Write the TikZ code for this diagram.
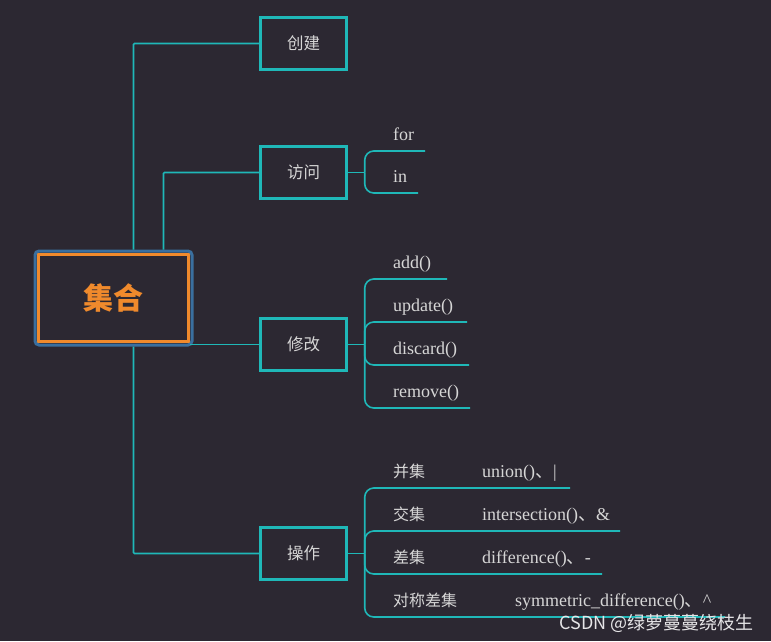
\documentclass[tikz,border=0pt]{standalone}
\usepackage{fontspec}
\setmainfont{Liberation Serif}
\newfontfamily\cjk{Noto Sans CJK SC}
\usetikzlibrary{positioning, fit, calc, backgrounds}
\definecolor{bgcolor}{HTML}{2C2832}
\definecolor{linkcolor}{HTML}{1FB8B8}
\definecolor{rootcolor}{HTML}{F08A2C}
\definecolor{halocolor}{HTML}{3A6F9F}
\definecolor{textcolor}{HTML}{D6D6D6}
\newcommand{\dunhao}{{\cjk 、}}

\tikzset{
  topic/.style={draw=linkcolor, line width=2.5pt, fill=bgcolor, minimum width=86pt,
    minimum height=52pt, text=textcolor, font=\cjk\fontsize{16.5}{16.5}\selectfont},
  link/.style={draw=linkcolor, line width=1.6pt},
  trunk/.style={link, rounded corners=1pt},
  fork/.style={link, rounded corners=9pt},
  leaf/.style={anchor=base west, inner sep=0pt, text=textcolor, font=\fontsize{18}{18}\selectfont},
  cjkleaf/.style={leaf, font=\cjk\fontsize{16}{16}\selectfont},
}

\begin{document}
\begin{tikzpicture}[x=1pt, y=-1pt]
  \useasboundingbox (0,0) rectangle (771,641);

  % root topic
  \node[draw=rootcolor, line width=3pt, fill=bgcolor, minimum width=150pt, minimum height=87pt,
    text=rootcolor, font=\cjk\bfseries\fontsize{30}{30}\selectfont] (set) at (113.5,298) {集合};
  \node[fit=(set), inner sep=2pt, draw=halocolor, line width=3pt, rounded corners=4pt] (halo) {};

  % main topics
  \node[topic] (create)  at (303.5,43.5)  {创建};
  \node[topic] (access)  at (303.5,172.5) {访问};
  \node[topic] (modify)  at (303.5,344.5) {修改};
  \node[topic] (operate) at (303.5,553.5) {操作};

  \begin{scope}[on background layer]
    \fill[bgcolor] (0,0) rectangle (771,641);
  \end{scope}

  % trunk lines from the root
  \coordinate (trunktop) at ([xshift=20pt]halo.north);
  \coordinate (trunkbot) at ([xshift=20pt]halo.south);
  \coordinate (acctrunk) at ([xshift=50pt]halo.north);
  \draw[trunk] (create.west) -| (trunktop);
  \draw[trunk] (trunkbot) |- (operate.west);
  \draw[trunk] (access.west) -| (acctrunk);
  \draw[link] (set.east |- modify.west) -- (modify.west);

  % access: for / in
  \coordinate (accfork) at ([xshift=17pt]access.east);
  \draw[link] (access.east) -- (accfork);
  \foreach \name/\y/\x [count=\i] in {for/151/425, in/193/418} {
    \draw[fork] (accfork) |- (\x,\y);
    \node[leaf] (acc\i) at (393,\y-11) {\name};
  }

  % modify: methods
  \coordinate (modfork) at ([xshift=17pt]modify.east);
  \draw[link] (modify.east) -- (modfork);
  \foreach \name/\y/\x [count=\i] in {add()/279/447, update()/322/467, discard()/365/469, remove()/408/470} {
    \draw[fork] (modfork) |- (\x,\y);
    \node[leaf] (mod\i) at (393,\y-11) {\name};
  }

  % operate: set algebra
  \coordinate (opfork) at ([xshift=17pt]operate.east);
  \draw[link] (operate.east) -- (opfork);
  \foreach \name/\meth/\y/\x/\mx [count=\i] in {%
      并集/union()\dunhao|/488/570/482,
      交集/intersection()\dunhao\&/531/620/482,
      差集/difference()\dunhao-/574/602/482,
      对称差集/symmetric\_difference()\dunhao\textasciicircum/617/725/515} {
    \draw[fork] (opfork) |- (\x,\y);
    \node[cjkleaf] (op\i) at (393,\y-11) {\name};
    \node[leaf] (opm\i) at (\mx,\y-11) {\meth};
  }

  % watermark
  \node[anchor=base east, inner sep=0pt, text=white!88!bgcolor, font=\cjk\fontsize{18}{18}\selectfont]
    (mark) at (754,629) {CSDN @绿萝蔓蔓绕枝生};
\end{tikzpicture}
\end{document}
